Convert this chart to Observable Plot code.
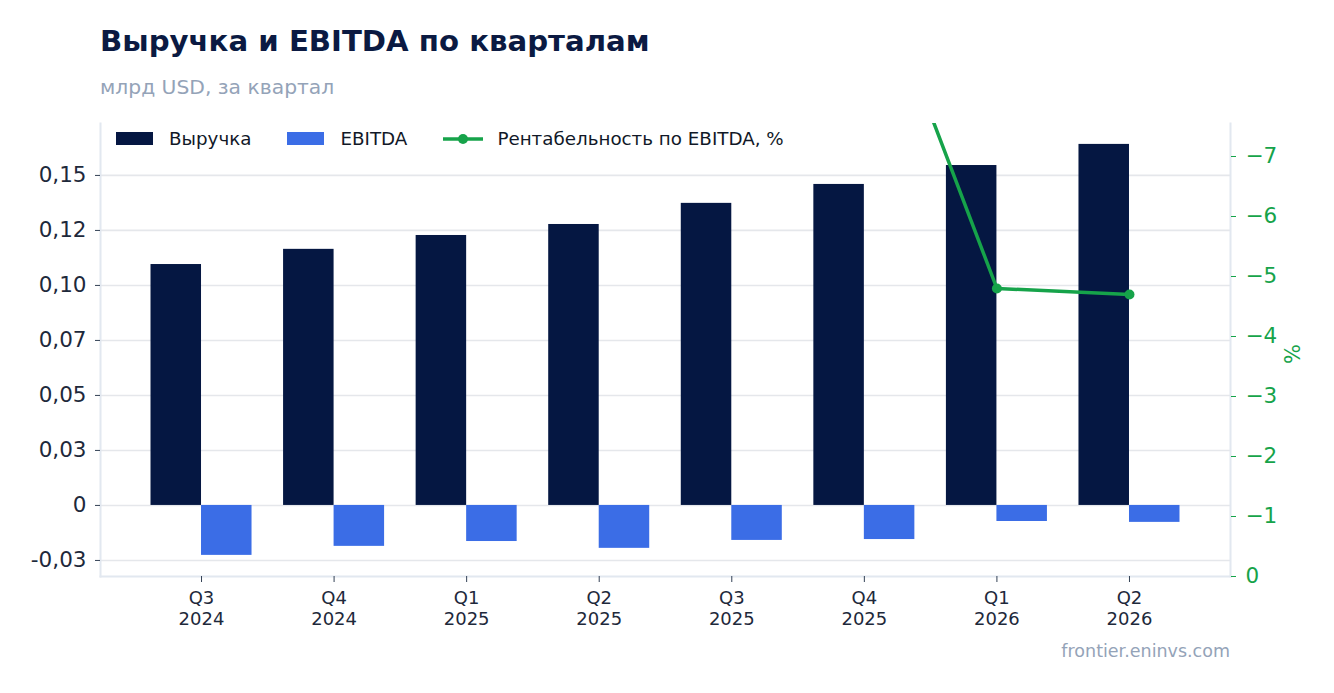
<!DOCTYPE html>
<html>
<head>
<meta charset="utf-8">
<script src="https://cdn.jsdelivr.net/npm/d3@7"></script>
<script src="https://cdn.jsdelivr.net/npm/@observablehq/plot@0.6"></script>
<style>
  html, body { margin: 0; padding: 0; background: #fff; }
  body { font-family: "DejaVu Sans", sans-serif; }
  #wrap { position: relative; width: 1334px; height: 693px; overflow: hidden; }
  #title { position: absolute; left: 100px; top: 24px; font-size: 29.2px; font-weight: bold; color: #0b1a42; white-space: nowrap; }
  #subtitle { position: absolute; left: 100px; top: 75px; font-size: 20.3px; color: #94a3b8; white-space: nowrap; }
  #chart { position: absolute; left: 0; top: 110px; }
  #legend { position: absolute; left: 116px; top: 128px; display: flex; align-items: center; font-size: 18.3px; color: #111827; white-space: nowrap; }
  .sw { display: inline-block; width: 37px; height: 13px; margin-right: 16px; }
  .item { display: flex; align-items: center; margin-right: 36px; }
  #footer { position: absolute; right: 104px; top: 641px; font-size: 17.5px; color: #94a3b8; }
</style>
</head>
<body>
<div id="wrap">
  <div id="title">Выручка и EBITDA по кварталам</div>
  <div id="subtitle">млрд USD, за квартал</div>
  <div id="chart"></div>
  <div id="legend"></div>
  <div id="footer">frontier.eninvs.com</div>
</div>
<script>
// ---- data ----
const quarters = ["Q3 2024", "Q4 2024", "Q1 2025", "Q2 2025", "Q3 2025", "Q4 2025", "Q1 2026", "Q2 2026"];
const revenue  = [0.1095, 0.1164, 0.1227, 0.1277, 0.1373, 0.1459, 0.1545, 0.1641];
const ebitda   = [-0.0227, -0.0186, -0.0164, -0.0195, -0.0159, -0.0155, -0.0073, -0.0077];
const marginPct = [-20.7, -16.0, -13.4, -15.3, -11.6, -10.6, -4.8, -4.7];

const leftTicks  = [-0.025, 0, 0.025, 0.05, 0.075, 0.1, 0.125, 0.15];
const leftLabels = ["-0,03", "0", "0,03", "0,05", "0,07", "0,10", "0,12", "0,15"];
const rightTicks  = [0, -1, -2, -3, -4, -5, -6, -7];
const rightLabels = ["0", "−1", "−2", "−3", "−4", "−5", "−6", "−7"];

const seriesNames = ["Выручка", "EBITDA", "Рентабельность по EBITDA, %"];
const colors = { rev: "#051742", ebitda: "#3b6de6", margin: "#16a34a" };

// ---- build ----
const rows = quarters.map((q, i) => ({ q, rev: revenue[i], ebitda: ebitda[i], margin: marginPct[i] }));

const W = 1334, H = 530;
const mL = 100, mR = 104, mT = 13, mB = 64;
const yDomain = [-0.0323, 0.1736];
const rightDomain = [0, -7.55];
const toLeft = d3.scaleLinear().domain(rightDomain).range(yDomain);

const pInner = 0.238, pOuter = 0.381;
const step = (W - mL - mR) / (quarters.length - pInner + 2 * pOuter);
const bw = step * (1 - pInner);
const half = bw / 2;

const chart = Plot.plot({
  width: W, height: H,
  marginLeft: mL, marginRight: mR, marginTop: mT, marginBottom: mB,
  style: { fontFamily: "DejaVu Sans, sans-serif", background: "transparent" },
  x: { type: "band", domain: quarters, paddingInner: pInner, paddingOuter: pOuter, round: false, axis: null },
  y: { domain: yDomain, axis: null },
  marks: [
    Plot.gridY(leftTicks, { stroke: "#e5e7eb", strokeOpacity: 1, strokeWidth: 1.6 }),
    Plot.frame({ anchor: "left", stroke: "#e2e8f0", strokeWidth: 2 }),
    Plot.frame({ anchor: "right", stroke: "#e2e8f0", strokeWidth: 2 }),
    Plot.frame({ anchor: "bottom", stroke: "#e2e8f0", strokeWidth: 2 }),
    Plot.barY(rows, { x: "q", y: "rev", fill: colors.rev, insetRight: half, insetLeft: 0 }),
    Plot.barY(rows, { x: "q", y: "ebitda", fill: colors.ebitda, insetLeft: half, insetRight: 0 }),
    Plot.lineY(rows, { x: "q", y: d => toLeft(d.margin), stroke: colors.margin, strokeWidth: 3.5, clip: true }),
    Plot.dot(rows, { x: "q", y: d => toLeft(d.margin), r: 5, fill: colors.margin, clip: true }),
    Plot.axisY(leftTicks, {
      anchor: "left", tickSize: 5, tickPadding: 9, stroke: "#334155",
      fontSize: 21.5, fill: "#1e293b", label: null,
      tickFormat: (d) => leftLabels[leftTicks.indexOf(d)]
    }),
    Plot.axisY(rightTicks.map(toLeft), {
      anchor: "right", tickSize: 5, tickPadding: 10, stroke: colors.margin,
      fontSize: 21.5, fill: colors.margin, label: null,
      tickFormat: (d, i) => rightLabels[i]
    }),
    Plot.text(["%"], { frameAnchor: "right", dx: 63, dy: -6, rotate: -90, fontSize: 21, fill: colors.margin }),
    Plot.axisX(quarters, {
      tickSize: 6, tickPadding: 6, stroke: "#334155", fontSize: 18, fill: "#1e293b", label: null,
      lineHeight: 1.2,
      tickFormat: d => d.replace(" ", "\n")
    })
  ]
});
document.getElementById("chart").appendChild(chart);

// legend
const lg = document.getElementById("legend");
lg.innerHTML = `
  <div class="item"><span class="sw" style="background:${colors.rev}"></span>${seriesNames[0]}</div>
  <div class="item"><span class="sw" style="background:${colors.ebitda}"></span>${seriesNames[1]}</div>
  <div class="item"><svg width="40" height="12" style="margin-right:14px"><line x1="0" y1="6" x2="40" y2="6" stroke="${colors.margin}" stroke-width="3.5"/><circle cx="20" cy="6" r="5" fill="${colors.margin}"/></svg>${seriesNames[2]}</div>`;
</script>
</body>
</html>
